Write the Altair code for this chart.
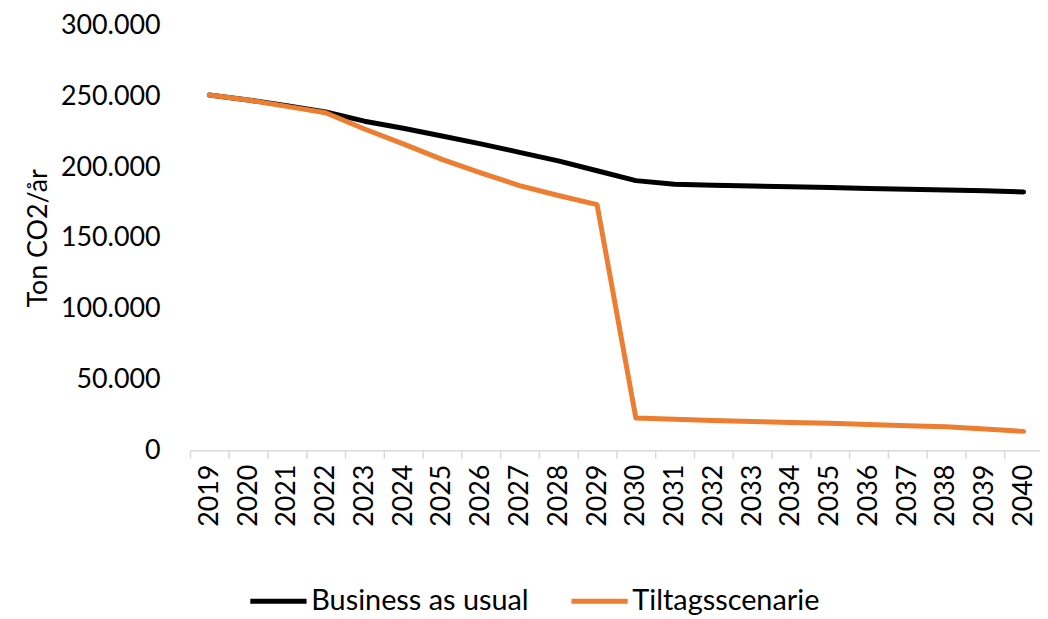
import altair as alt
import pandas as pd

years = ["2019", "2020", "2021", "2022", "2023", "2024", "2025", "2026", "2027", "2028", "2029",
         "2030", "2031", "2032", "2033", "2034", "2035", "2036", "2037", "2038", "2039", "2040"]
bau = [251000, 247500, 243500, 239000, 232500, 227500, 222000, 216500, 210500, 204500, 197500,
       190500, 188000, 187300, 186700, 186100, 185600, 185000, 184400, 183900, 183300, 182500]
tiltag = [251000, 247500, 243000, 238500, 227000, 216500, 205500, 196000, 187000, 180000, 173500,
          22800, 21800, 21000, 20300, 19600, 19000, 18200, 17300, 16500, 15000, 13300]
series_names = ["Business as usual", "Tiltagsscenarie"]
series_colors = ["#000000", "#ED7D31"]
y_ticks = [0, 50000, 100000, 150000, 200000, 250000, 300000]

rows = []
for name, vals in zip(series_names, [bau, tiltag]):
    for yr, v in zip(years, vals):
        rows.append({"year": yr, "series": name, "value": v})
df = pd.DataFrame(rows)

FONT = "Lato"
FS = 27
W = 840
H = 427

chart = alt.Chart(df).mark_line(strokeWidth=5, strokeCap="round", strokeJoin="round").encode(
    x=alt.X(
        "year:O", sort=years, bandPosition=0.5,
        scale=alt.Scale(type="band", domain=years, range=[0, 858], paddingInner=0, paddingOuter=0),
        axis=alt.Axis(title=None, labelAngle=-90, tickBand="extent", domainColor="#D9D9D9",
                      domainWidth=1.5, tickColor="#D9D9D9", tickWidth=1.5, tickSize=8,
                      labelFontSize=FS, labelFont=FONT, labelColor="#000000", labelPadding=6,
                      grid=False, labelOverlap=False)),
    y=alt.Y(
        "value:Q",
        scale=alt.Scale(domain=[0, 300000], nice=False),
        axis=alt.Axis(values=y_ticks, labelExpr="replace(format(datum.value, ','), ',', '.')",
                      title="Ton CO2/år", domain=False, ticks=False, grid=False,
                      labelFontSize=FS, labelFont=FONT, labelColor="#000000", labelPadding=30,
                      titleFontSize=FS, titleFont=FONT, titleColor="#000000",
                      titleFontWeight="normal", titlePadding=8)),
    color=alt.Color(
        "series:N", sort=series_names,
        scale=alt.Scale(domain=series_names, range=series_colors),
        legend=alt.Legend(title=None, orient="none", legendX=58, legendY=548,
                          direction="horizontal", columns=2, symbolType="stroke",
                          symbolSize=3200, symbolStrokeWidth=5, labelFontSize=29,
                          labelFont=FONT, labelColor="#000000", labelOffset=2,
                          columnPadding=32, labelLimit=400)),
).properties(
    width=W, height=H,
    autosize=alt.AutoSizeParams(type="none"),
    padding={"left": 183, "top": 16, "right": 15, "bottom": 168},
).configure_view(strokeWidth=0)

chart.save("out.html", embed_options={"renderer": "svg", "actions": False})
